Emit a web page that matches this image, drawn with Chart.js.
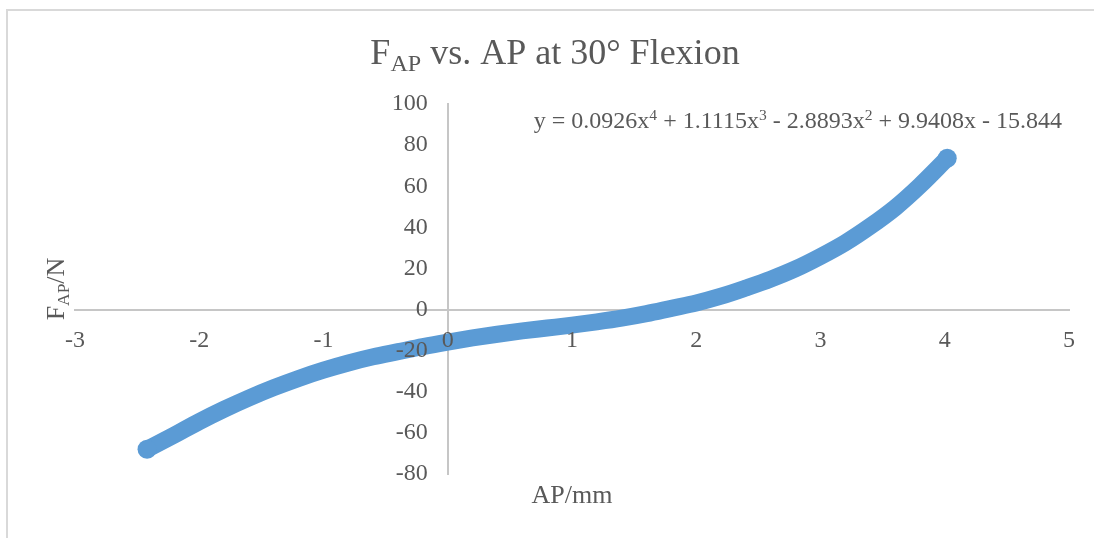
<!DOCTYPE html>
<html>
<head>
<meta charset="utf-8">
<script src="https://cdn.jsdelivr.net/npm/chart.js@4.4.1/dist/chart.umd.min.js"></script>
<style>
html,body{margin:0;padding:0;background:#ffffff;}
#wrap{width:1094px;height:538px;position:relative;overflow:hidden;}
canvas{display:block;}
</style>
</head>
<body>
<div id="wrap"><canvas id="c" width="1094" height="538"></canvas></div>
<script>
// ---- data ----
const apMm = [-2.42, -2.2, -2.0, -1.8, -1.6, -1.4, -1.2, -1.0, -0.8, -0.6, -0.4, -0.2,
              0.0, 0.2, 0.4, 0.6, 0.8, 1.0, 1.2, 1.4, 1.6, 1.8, 2.0, 2.2, 2.4, 2.6,
              2.8, 3.0, 3.2, 3.4, 3.6, 3.8, 4.02];
const forceN = [-68, -61, -54.5, -48.5, -43, -38, -33.5, -29.5, -26, -23, -20.5, -18,
                -15.8, -13.8, -12, -10.4, -9, -7.6, -6, -4.2, -2, 0.6, 3.2, 6.5, 10.5, 14.8,
                19.8, 25.8, 32.5, 40.5, 49.5, 60.3, 73.6];
const xTickValues = [-3, -2, -1, 0, 1, 2, 3, 4, 5];
const yTickValues = [-80, -60, -40, -20, 0, 20, 40, 60, 80, 100];

// ---- texts ----
const titleParts = [{t: 'F'}, {t: 'AP', s: 'sub'}, {t: ' vs. AP at 30\u00B0 Flexion'}];
const yTitleParts = [{t: 'F'}, {t: 'AP', s: 'sub'}, {t: '/N'}];
const xTitleParts = [{t: 'AP/mm'}];
const equationParts = [
  {t: 'y = 0.0926x'}, {t: '4', s: 'sup'},
  {t: ' + 1.1115x'}, {t: '3', s: 'sup'},
  {t: ' - 2.8893x'}, {t: '2', s: 'sup'},
  {t: ' + 9.9408x - 15.844'}
];

const FONT = '"Liberation Serif", "Times New Roman", serif';
const TEXT = '#595959';
const font = (sz) => sz + 'px ' + FONT;

function richWidth(ctx, parts, size, ratio) {
  let w = 0;
  parts.forEach(p => { ctx.font = font(p.s ? size * ratio : size); w += ctx.measureText(p.t).width; });
  return w;
}
function drawRich(ctx, parts, x, y, size, align, ratio, subDy, supDy) {
  const w = richWidth(ctx, parts, size, ratio);
  let cx = align === 'center' ? x - w / 2 : (align === 'right' ? x - w : x);
  ctx.textAlign = 'left';
  ctx.textBaseline = 'alphabetic';
  ctx.fillStyle = TEXT;
  parts.forEach(p => {
    const fs = p.s ? size * ratio : size;
    ctx.font = font(fs);
    const dy = p.s === 'sub' ? subDy : (p.s === 'sup' ? -supDy : 0);
    ctx.fillText(p.t, cx, y + dy);
    cx += ctx.measureText(p.t).width;
  });
}

const decor = {
  id: 'decor',
  beforeDraw(chart) {
    const ctx = chart.ctx;
    ctx.save();
    ctx.fillStyle = '#ffffff';
    ctx.fillRect(0, 0, chart.width, chart.height);
    ctx.strokeStyle = '#d9d9d9';
    ctx.lineWidth = 2;
    ctx.beginPath();
    ctx.moveTo(7, chart.height + 2);
    ctx.lineTo(7, 10);
    ctx.lineTo(chart.width + 2, 10);
    ctx.stroke();
    ctx.restore();
  },
  afterDatasetsDraw(chart) {
    // value-axis tick labels, placed left of the crossing vertical axis
    const ctx = chart.ctx;
    const xs = chart.scales.x, ys = chart.scales.y;
    const x0 = xs.getPixelForValue(0);
    ctx.save();
    ctx.font = font(24);
    ctx.fillStyle = TEXT;
    ctx.textAlign = 'right';
    ctx.textBaseline = 'middle';
    yTickValues.forEach(v => ctx.fillText(String(v), x0 - 20, ys.getPixelForValue(v)));
    ctx.restore();
  },
  afterDraw(chart) {
    const ctx = chart.ctx;
    const a = chart.chartArea;
    ctx.save();
    drawRich(ctx, titleParts, 555, 64, 36, 'center', 0.67, 7, 0);
    drawRich(ctx, equationParts, 1062, 128, 24, 'right', 0.65, 0, 8);
    drawRich(ctx, xTitleParts, (a.left + a.right) / 2, 503, 26, 'center', 0.67, 0, 0);
    ctx.translate(64, (a.top + a.bottom) / 2);
    ctx.rotate(-Math.PI / 2);
    drawRich(ctx, yTitleParts, 0, 0, 26, 'center', 0.67, 5, 0);
    ctx.restore();
  }
};

const pts = apMm.map((x, i) => ({x: x, y: forceN[i]}));

new Chart(document.getElementById('c'), {
  type: 'scatter',
  data: {
    datasets: [{
      data: pts,
      showLine: true,
      borderColor: '#5b9bd5',
      backgroundColor: '#5b9bd5',
      borderWidth: 17,
      borderCapStyle: 'round',
      borderJoinStyle: 'round',
      cubicInterpolationMode: 'monotone',
      pointRadius: (c) => (c.dataIndex === 0 || c.dataIndex === pts.length - 1) ? 9.5 : 0,
      pointHoverRadius: 0,
      pointBorderWidth: 0
    }]
  },
  options: {
    responsive: false,
    animation: false,
    devicePixelRatio: 1,
    layout: {padding: {left: 75, right: 25, top: 104, bottom: 64}},
    plugins: {legend: {display: false}, title: {display: false}, tooltip: {enabled: false}},
    scales: {
      x: {
        type: 'linear',
        min: -3, max: 5,
        position: {y: 0},
        afterBuildTicks: (s) => { s.ticks = xTickValues.map(v => ({value: v})); },
        grid: {display: false, drawTicks: false},
        border: {display: true, color: '#c6c6c6', width: 2, z: 0},
        ticks: {
          autoSkip: false, maxRotation: 0, padding: 17, color: TEXT, z: 1,
          font: {family: FONT, size: 24}
        }
      },
      y: {
        type: 'linear',
        min: -80, max: 100,
        position: {x: 0},
        afterBuildTicks: (s) => { s.ticks = yTickValues.map(v => ({value: v})); },
        grid: {display: false, drawTicks: false},
        border: {display: true, color: '#c6c6c6', width: 2, z: 0},
        ticks: {display: false}
      }
    }
  },
  plugins: [decor]
});
</script>
</body>
</html>
